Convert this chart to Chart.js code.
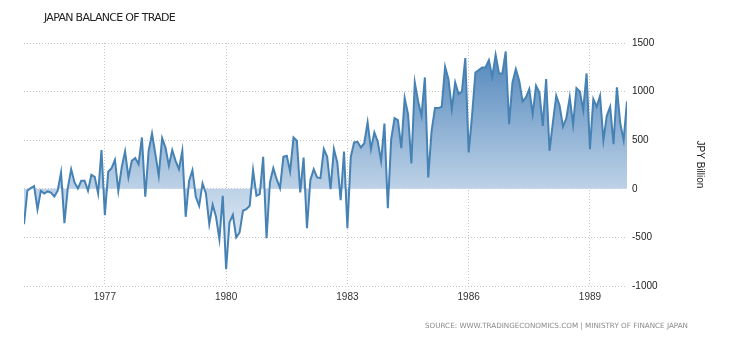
<!DOCTYPE html>
<html>
<head>
<meta charset="utf-8">
<script src="https://cdn.jsdelivr.net/npm/chart.js@4"></script>
<style>
  body { margin: 0; background: #fff; }
  #wrap { position: relative; width: 730px; height: 340px; }
  #title { position: absolute; left: 44px; top: 11px; font: 11px "DejaVu Sans", sans-serif; color: #222; letter-spacing: -0.7px; }
  #source { position: absolute; left: 425px; top: 321px; font: 7.2px "DejaVu Sans", sans-serif; color: #8a8a8a; }
</style>
</head>
<body>
<div id="wrap">
  <canvas id="trade" width="730" height="340"></canvas>
  <div id="title">JAPAN BALANCE OF TRADE</div>
  <div id="source">SOURCE: WWW.TRADINGECONOMICS.COM | MINISTRY OF FINANCE JAPAN</div>
</div>
<script>
// monthly balance, JPY billion, Jan..Dec of each year
var bal1975 = [-364, -20, 7, 27, -210, -20, -48, -27, -38, -79, -20, 168];
var bal1976 = [-353, 7, 202, 65, 3, 82, 82, -20, 144, 123, -48, 398];
var bal1977 = [-271, 175, 213, 298, -20, 220, 384, 117, 288, 316, 254, 528];
var bal1978 = [-82, 391, 569, 357, 134, 521, 425, 237, 398, 288, 202, 391];
var bal1979 = [-288, 82, 192, -82, -175, 55, -48, -364, -165, -288, -518, -72];
var bal1980 = [-827, -346, -268, -500, -449, -226, -209, -175, 192, -72, -55, 329];
var bal1981 = [-508, 65, 213, 99, 7, 329, 340, 178, 528, 494, -38, 322];
var bal1982 = [-405, 89, 202, 117, 110, 408, 329, -3, 408, 271, -117, 384];
var bal1983 = [-405, 329, 477, 484, 425, 466, 683, 408, 580, 487, 285, 672];
var bal1984 = [-199, 511, 727, 707, 418, 933, 768, 261, 1094, 899, 751, 1146];
var bal1985 = [117, 597, 830, 830, 844, 1255, 1128, 820, 1094, 974, 1002, 1345];
var bal1986 = [374, 751, 1197, 1221, 1249, 1249, 1324, 1152, 1379, 1187, 1187, 1413];
var bal1987 = [665, 1094, 1231, 1111, 899, 940, 1026, 768, 1060, 991, 648, 1128];
var bal1988 = [391, 683, 957, 854, 638, 727, 940, 659, 1036, 1002, 809, 1187];
var bal1989 = [408, 923, 844, 957, 501, 751, 844, 460, 1043, 672, 501, 899];

var firstYear = 1975;
var yearTicks = [1977, 1980, 1983, 1986, 1989];
var valueTicks = [-1000, -500, 0, 500, 1000, 1500];

var balance = [].concat(bal1975, bal1976, bal1977, bal1978, bal1979, bal1980, bal1981,
  bal1982, bal1983, bal1984, bal1985, bal1986, bal1987, bal1988, bal1989);
var points = balance.map(function (v, i) { return { x: i, y: v }; });

var gridStyle = { color: '#c4c4c4', lineWidth: 1, drawTicks: false };
var tickFont = { family: 'Liberation Sans', size: 10 };

function areaFill(context) {
  var chart = context.chart;
  var area = chart.chartArea;
  if (!area) return 'rgba(70,130,180,0.5)';
  var g = chart.ctx.createLinearGradient(0, area.top, 0, area.bottom);
  g.addColorStop(0, '#4b82b9');
  g.addColorStop(0.6, '#bdd2e7');
  g.addColorStop(1, '#f7fafd');
  return g;
}

new Chart(document.getElementById('trade'), {
  type: 'line',
  data: {
    datasets: [{
      data: points,
      borderColor: '#4682b4',
      borderWidth: 2,
      pointRadius: 0,
      tension: 0,
      fill: 'origin',
      backgroundColor: areaFill
    }]
  },
  options: {
    responsive: false,
    animation: false,
    layout: { padding: { top: 43, left: 24, right: 0, bottom: 0 } },
    plugins: { legend: { display: false }, tooltip: { enabled: false } },
    scales: {
      x: {
        type: 'linear',
        min: 0,
        max: balance.length - 1,
        grid: gridStyle,
        border: { display: false, dash: [1, 2] },
        afterBuildTicks: function (scale) {
          scale.ticks = yearTicks.map(function (y) { return { value: (y - firstYear) * 12 }; });
        },
        afterFit: function (scale) { scale.height = 54; },
        ticks: {
          font: tickFont,
          color: '#333',
          padding: 5,
          maxRotation: 0,
          callback: function (v) { return String(firstYear + v / 12); }
        }
      },
      y: {
        position: 'right',
        min: -1000,
        max: 1500,
        grid: gridStyle,
        border: { display: false, dash: [1, 2] },
        afterBuildTicks: function (scale) {
          scale.ticks = valueTicks.map(function (v) { return { value: v }; });
        },
        afterFit: function (scale) { scale.width = 103; },
        ticks: {
          font: tickFont,
          color: '#222',
          padding: 5,
          callback: function (v) { return String(v); }
        },
        title: {
          display: true,
          text: 'JPY Billion',
          font: { family: 'Liberation Sans', size: 10 },
          color: '#222',
          padding: { top: 24, bottom: 0 }
        }
      }
    }
  }
});
</script>
</body>
</html>
